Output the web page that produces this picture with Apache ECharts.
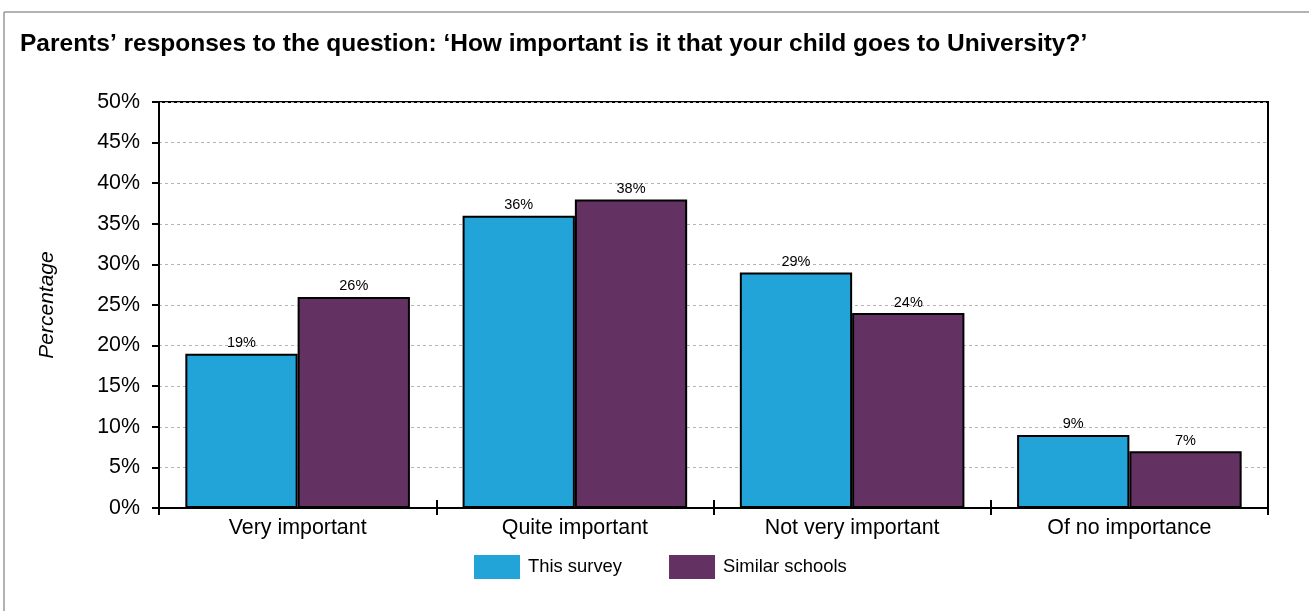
<!DOCTYPE html>
<html>
<head>
<meta charset="utf-8">
<script src="https://cdn.jsdelivr.net/npm/echarts@6/dist/echarts.min.js"></script>
<style>
  html, body { margin: 0; padding: 0; background: #fff; }
  #chart { width: 1309px; height: 611px; }
</style>
</head>
<body>
<div id="chart"></div>
<script>
// 数据
const categories = ["Very important", "Quite important", "Not very important", "Of no importance"];
const thisSurvey = [19, 36, 29, 9];
const similarSchools = [26, 38, 24, 7];
const yTicks = [0, 5, 10, 15, 20, 25, 30, 35, 40, 45, 50];

const font = "Liberation Sans, Arial, sans-serif";

const myChart = echarts.init(document.querySelector("#chart"));
const barLabel = {
  show: true,
  position: "top",
  distance: 3,
  fontSize: 14.5,
  color: "#000",
  fontFamily: font,
  formatter: (p) => p.value + "%",
};
const option = {
  animation: false,
  textStyle: { fontFamily: font },
  title: {
    text: "Parents\u2019 responses to the question: \u2018How important is it that your child goes to University?\u2019",
    left: 15,
    top: 27,
    textStyle: { fontSize: 24.5, fontWeight: "bold", color: "#000", fontFamily: font },
  },
  // 外框（只有上边和左边）
  graphic: [
    { type: "line", shape: { x1: 4, y1: 12, x2: 1309, y2: 12 }, style: { stroke: "#999", lineWidth: 1.5 } },
    { type: "line", shape: { x1: 4, y1: 12, x2: 4, y2: 611 }, style: { stroke: "#999", lineWidth: 1.5 } },
  ],
  grid: {
    left: 159,
    right: 41,
    top: 102,
    bottom: 103,
    show: true,
    borderColor: "#000",
    borderWidth: 2,
  },
  legend: {
    bottom: 27,
    left: 469,
    itemWidth: 46,
    itemHeight: 24,
    itemGap: 47,
    icon: "rect",
    itemStyle: { borderWidth: 0 },
    textStyle: { fontSize: 18.4, color: "#000", fontFamily: font, padding: [0, 0, 0, 3] },
    data: ["This survey", "Similar schools"],
  },
  xAxis: [
    {
      type: "category",
      data: categories,
      axisLine: { lineStyle: { color: "#000", width: 2 } },
      axisTick: { show: true, length: 7, lineStyle: { color: "#000", width: 2 } },
      axisLabel: { fontSize: 21.4, color: "#000", margin: 10, fontFamily: font },
    },
    {
      type: "category",
      data: categories,
      position: "bottom",
      axisLine: { show: false },
      axisTick: { show: true, inside: true, length: 8, lineStyle: { color: "#000", width: 2 } },
      axisLabel: { show: false },
    },
  ],
  yAxis: {
    type: "value",
    min: yTicks[0],
    max: yTicks[yTicks.length - 1],
    interval: 5,
    name: "Percentage",
    nameLocation: "middle",
    nameGap: 101,
    nameTextStyle: { fontSize: 21, fontStyle: "italic", color: "#000", fontFamily: font },
    axisLine: { show: true, lineStyle: { color: "#000", width: 2 } },
    axisTick: { show: true, length: 7, lineStyle: { color: "#000", width: 2 } },
    axisLabel: { fontSize: 21.4, color: "#000", margin: 19, formatter: "{value}%", fontFamily: font },
    splitLine: { lineStyle: { color: "#b4b4b4", type: [3, 3], width: 1 } },
  },
  series: [
    {
      name: "This survey",
      type: "bar",
      data: thisSurvey,
      barGap: "0%",
      barCategoryGap: "19%",
      itemStyle: { color: "#22a4d9", borderColor: "#000", borderWidth: 2 },
      label: barLabel,
    },
    {
      name: "Similar schools",
      type: "bar",
      data: similarSchools,
      itemStyle: { color: "#643262", borderColor: "#000", borderWidth: 2 },
      label: barLabel,
    },
  ],
};
myChart.setOption(option);
</script>
</body>
</html>
